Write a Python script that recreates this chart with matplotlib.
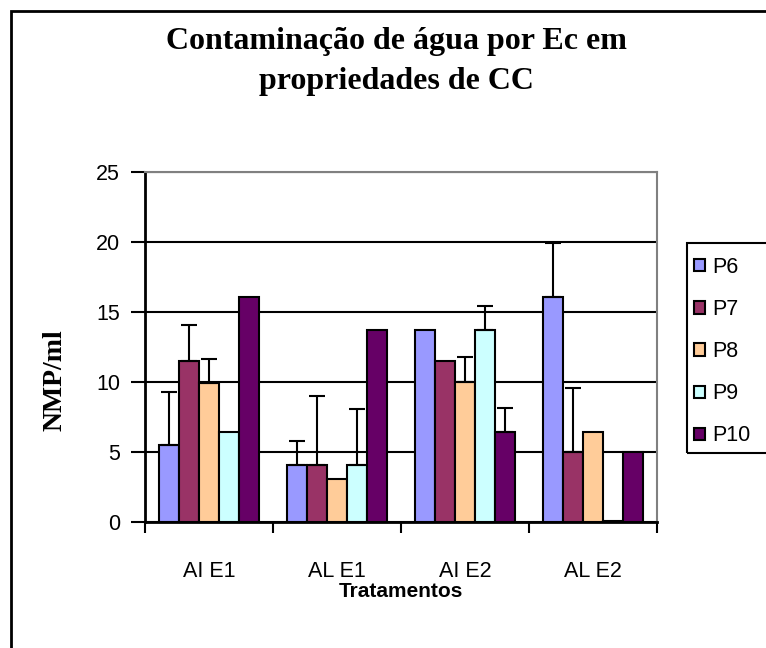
import numpy as np
import matplotlib
matplotlib.use("Agg")
from matplotlib import pyplot as plt
from matplotlib.patches import Rectangle

# data
tratamentos = ["AI E1", "AL E1", "AI E2", "AL E2"]
series = ["P6", "P7", "P8", "P9", "P10"]
p6 = [5.5, 4.07, 13.7, 16.1]
p7 = [11.5, 4.07, 11.5, 5.0]
p8 = [9.9, 3.1, 10.0, 6.4]
p9 = [6.43, 4.07, 13.7, 0.1]
p10 = [16.1, 13.7, 6.4, 5.0]
# upper error bars (0 = none)
err_p6 = [3.8, 1.7, 0, 3.8]
err_p7 = [2.55, 4.9, 0, 4.6]
err_p8 = [1.75, 0, 1.8, 0]
err_p9 = [0, 4.0, 1.75, 0]
err_p10 = [0, 0, 1.75, 0]

values = [p6, p7, p8, p9, p10]
errors = [err_p6, err_p7, err_p8, err_p9, err_p10]
colors = ["#9999FF", "#993366", "#FFCC99", "#CCFFFF", "#660066"]

W, H = 766, 648
fig = plt.figure(figsize=(W / 100, H / 100), dpi=100)
ax = fig.add_axes([145 / W, 1 - 522 / H, 512 / W, 350 / H])

# outer chart border
fig.patches.append(Rectangle((11 / W, -0.1), 1.2, 1 - 11 / H + 0.1, transform=fig.transFigure,
                             fill=False, edgecolor="black", linewidth=2, zorder=0))

x = np.arange(len(tratamentos)) + 0.5
bw = 0.155
handles = []
for i in range(len(series)):
    pos = x + (i - 2) * bw
    b = ax.bar(pos, values[i], width=bw, color=colors[i], edgecolor="black",
               linewidth=1.5, zorder=3, label=series[i])
    handles.append(b)
    e = np.array(errors[i])
    m = e > 0
    if m.any():
        ax.errorbar(pos[m], np.array(values[i])[m], yerr=[np.zeros(m.sum()), e[m]],
                    fmt="none", ecolor="black", elinewidth=1.5, capsize=6,
                    capthick=1.5, zorder=4)

ax.set_xlim(0, 4)
ax.set_ylim(0, 25)
ax.set_yticks([0, 5, 10, 15, 20, 25])
ax.yaxis.grid(True, color="black", linewidth=1.5, zorder=0)
ax.set_axisbelow(True)

ax.set_xticks(x)
ax.set_xticklabels(tratamentos, fontfamily="Liberation Sans", fontsize=15.5)
ax.set_xticks(np.arange(5), minor=True)
ax.tick_params(axis="x", which="major", length=0, pad=28)
ax.tick_params(axis="x", which="minor", length=8, width=1.5, direction="out")
ax.tick_params(axis="y", length=10, width=1.5, direction="out", pad=8)
for lab in ax.get_yticklabels():
    lab.set_fontfamily("Liberation Sans")
    lab.set_fontsize(15.5)

for s in ["left", "bottom"]:
    ax.spines[s].set_linewidth(2)
    ax.spines[s].set_color("black")
for s in ["top", "right"]:
    ax.spines[s].set_linewidth(1.5)
    ax.spines[s].set_color("#808080")

ax.set_xlabel("Tratamentos", fontfamily="Liberation Sans", fontweight="bold", fontsize=15)
ax.xaxis.set_label_coords(0.5, -0.172)
ax.set_ylabel("NMP/ml", fontfamily="Liberation Serif", fontweight="bold", fontsize=20)
ax.yaxis.set_label_coords(-0.152, 0.406)

fig.text(396 / W, 1 - 42 / H, "Contaminação de água por Ec em", ha="center", va="center",
         fontfamily="Liberation Serif", fontweight="bold", fontsize=23)
fig.text(396 / W, 1 - 82 / H, "propriedades de CC", ha="center", va="center",
         fontfamily="Liberation Serif", fontweight="bold", fontsize=23)

# legend with its own box running off the right edge
fig.patches.append(Rectangle((687 / W, 1 - 453 / H), 0.2, 210 / H, transform=fig.transFigure,
                             fill=False, edgecolor="black", linewidth=1.5))
fig.legend(handles=handles, loc="upper left", bbox_to_anchor=(694 / W, 1 - 257 / H),
           frameon=False, prop={"family": "Liberation Sans", "size": 15.5},
           handlelength=0.5, handleheight=0.5, handletextpad=0.35, labelspacing=0.98,
           borderaxespad=0, borderpad=0)

fig.savefig("out.png", dpi=100)
